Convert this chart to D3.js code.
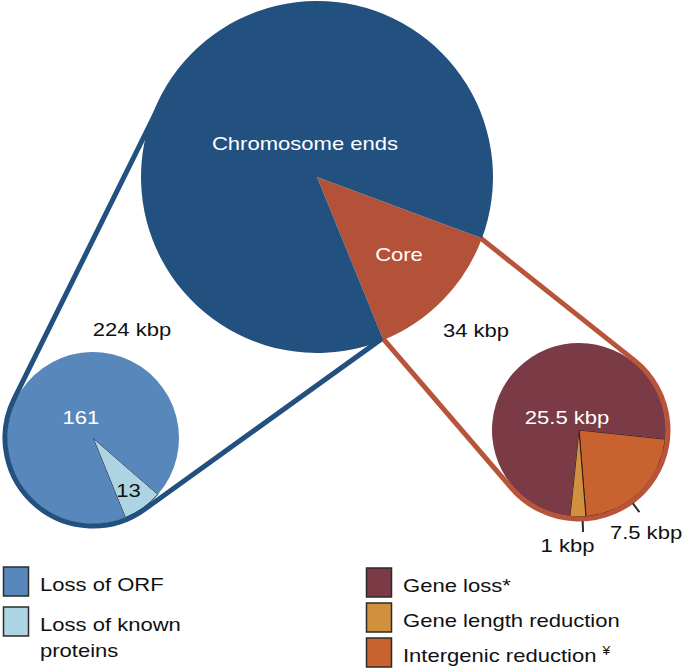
<!DOCTYPE html>
<html><head><meta charset="utf-8">
<script src="https://cdn.jsdelivr.net/npm/d3@7"></script>
<style>
body{margin:0;background:#fff}
text{font-family:"Liberation Sans",Arial,Helvetica,sans-serif}
</style>
</head><body>
<svg id="c" width="685" height="668"></svg>
<script>
// ---- data ----
const overviewCategories = ["Chromosome ends", "Core"];
const overviewValues = [224, 34];
const overviewLabels = ["224 kbp", "34 kbp"];
const endsCategories = ["Loss of ORF", "Loss of known proteins"];
const endsValues = [161, 13];
const coreCategories = ["Gene loss*", "Gene length reduction", "Intergenic reduction \u00A5"];
const coreValues = [25.5, 1, 7.5];
const coreLabels = ["25.5 kbp", "1 kbp", "7.5 kbp"];

// ---- styles ----
const overviewColors = ["#22507f", "#b35238"];
const endsColors = ["#5888bb", "#acd4e3"];
const coreColors = ["#7a3b46", "#d2913e", "#c8622f"];
const SX = 1.16;           // horizontal glyph stretch seen in reference
const FS = 19;
const deg = Math.PI / 180;

const svg = d3.select("#c");
const overviewColor = d3.scaleOrdinal(overviewCategories, overviewColors);
const endsColor = d3.scaleOrdinal(endsCategories, endsColors);
const coreColor = d3.scaleOrdinal(coreCategories, coreColors);

// geometry
const big = {cx: 317, cy: 177, r: 176};
const left = {cx: 93, cy: 438, r: 86, ro: 88};
const right = {cx: 579, cy: 430, r: 87, ro: 89};

function mk(cats, vals) { return cats.map((c, i) => ({name: c, value: vals[i]})); }

// pies
const bigData = mk(overviewCategories, overviewValues);
const bigOrder = [bigData[1], bigData[0]];
const bigStart = 110.4 * deg;
const bigArcs = d3.pie().sort(null).value(d => d.value)
  .startAngle(bigStart).endAngle(bigStart + 2 * Math.PI)(bigOrder);

const leftData = mk(endsCategories, endsValues);
const leftOrder = [leftData[1], leftData[0]];
const leftStart = 131 * deg;
const leftArcs = d3.pie().sort(null).value(d => d.value)
  .startAngle(leftStart).endAngle(leftStart + 2 * Math.PI)(leftOrder);

const rightData = mk(coreCategories, coreValues);
const rightOrder = [rightData[2], rightData[1], rightData[0]];
const rightStart = 96 * deg;
const rightArcs = d3.pie().sort(null).value(d => d.value)
  .startAngle(rightStart).endAngle(rightStart + 2 * Math.PI)(rightOrder);

// helpers
function pt(c, r, a) { return [c.cx + r * Math.sin(a), c.cy - r * Math.cos(a)]; }
function tangentFrom(P, c, R, sign) {
  const dx = P[0] - c.cx, dy = P[1] - c.cy, d = Math.hypot(dx, dy);
  const a = Math.atan2(dy, dx) + sign * Math.acos(R / d);
  return [c.cx + R * Math.cos(a), c.cy + R * Math.sin(a)];
}
function label(x, y, txt, fill, anchor) {
  return svg.append("text")
    .attr("transform", `translate(${x},${y}) scale(${SX},1)`)
    .attr("text-anchor", anchor || "middle")
    .attr("font-size", FS)
    .attr("fill", fill)
    .text(txt);
}

// ---- small pies ----
const leftArcGen = d3.arc().innerRadius(0).outerRadius(left.r);
svg.append("g").attr("transform", `translate(${left.cx},${left.cy})`)
  .selectAll("path").data(leftArcs).join("path")
  .attr("d", leftArcGen)
  .attr("fill", d => endsColor(d.data.name))
  .attr("stroke", d => d.data.name === endsCategories[1] ? "#1b1b1b" : "none")
  .attr("stroke-width", 1)
  .attr("stroke-linejoin", "round");

const rightArcGen = d3.arc().innerRadius(0).outerRadius(right.r);
svg.append("g").attr("transform", `translate(${right.cx},${right.cy})`)
  .selectAll("path").data(rightArcs).join("path")
  .attr("d", rightArcGen)
  .attr("fill", d => coreColor(d.data.name))
  .attr("stroke", d => d.data.name === coreCategories[0] ? "none" : "#2a1a14")
  .attr("stroke-width", 1)
  .attr("stroke-linejoin", "round");

// ---- callout outlines ----
const coreArc = bigArcs[0];
const coreP1 = pt(big, big.r - 2, coreArc.startAngle);
const coreP2 = pt(big, big.r - 2, coreArc.endAngle);

// left: outer common tangent between big circle and left pie, then wrap, then to core end
{
  const R1 = big.r - 3;
  const dx = left.cx - big.cx, dy = left.cy - big.cy, d = Math.hypot(dx, dy);
  const na = Math.atan2(dy, dx) + Math.acos((R1 - left.ro) / d);
  const T1 = [big.cx + R1 * Math.cos(na), big.cy + R1 * Math.sin(na)];
  const T2 = [left.cx + left.ro * Math.cos(na), left.cy + left.ro * Math.sin(na)];
  const Tb = tangentFrom(coreP2, left, left.ro, +1);
  const p = `M${T1}L${T2}A${left.ro},${left.ro} 0 0 0 ${Tb}L${coreP2}`;
  svg.append("path").attr("d", p).attr("fill", "none")
    .attr("stroke", "#22507f").attr("stroke-width", 5).attr("stroke-linejoin", "round");
}
// right: from core start tangent to right pie, wrap around right/bottom, back to core end
{
  const Ta = tangentFrom(coreP1, right, right.ro, +1);
  const Tb = tangentFrom(coreP2, right, right.ro, -1);
  const p = `M${coreP1}L${Ta}A${right.ro},${right.ro} 0 1 1 ${Tb}L${coreP2}`;
  svg.append("path").attr("d", p).attr("fill", "none")
    .attr("stroke", "#b8543a").attr("stroke-width", 5).attr("stroke-linejoin", "round");
}

// ---- big pie ----
const bigArcGen = d3.arc().innerRadius(0).outerRadius(big.r);
svg.append("g").attr("transform", `translate(${big.cx},${big.cy})`)
  .selectAll("path").data(bigArcs).join("path")
  .attr("d", bigArcGen)
  .attr("fill", d => overviewColor(d.data.name));

// ---- ticks for small slices ----
const tickOffset = {"Gene length reduction": -3 * deg, "Intergenic reduction \u00A5": 8 * deg};
rightArcs.filter(d => d.data.name !== coreCategories[0]).forEach(d => {
  const a = (d.startAngle + d.endAngle) / 2 + (tickOffset[d.data.name] || 0);
  const p0 = pt(right, right.ro + 2, a), p1 = pt(right, right.ro + 13, a);
  svg.append("line").attr("x1", p0[0]).attr("y1", p0[1]).attr("x2", p1[0]).attr("y2", p1[1])
    .attr("stroke", "#2b2b2b").attr("stroke-width", 2);
});

// ---- labels ----
label(305, 150, overviewCategories[0], "#fff");
label(399, 261, overviewCategories[1], "#fff");
label(132, 336, overviewLabels[0], "#111");
label(476, 337, overviewLabels[1], "#111");
label(81, 424, String(endsValues[0]), "#fff");
label(128.5, 497, String(endsValues[1]), "#111");
label(567, 424, coreLabels[0], "#fff");
label(567.5, 552, coreLabels[1], "#111");
label(646, 539, coreLabels[2], "#111");

// ---- legends ----
const legL = [
  {name: endsCategories[0], y: 567, lines: ["Loss of ORF"]},
  {name: endsCategories[1], y: 607, lines: ["Loss of known", "proteins"]}
];
legL.forEach(d => {
  svg.append("rect").attr("x", 3.5).attr("y", d.y).attr("width", 25).attr("height", 29)
    .attr("fill", endsColor(d.name)).attr("stroke", "#2b2b2b").attr("stroke-width", 1.5);
  d.lines.forEach((t, i) => label(40, d.y + 24 + i * 26, t, "#111", "start"));
});
coreCategories.forEach((c, i) => {
  const y = 568 + i * 35;
  svg.append("rect").attr("x", 366.5).attr("y", y).attr("width", 25).attr("height", 29)
    .attr("fill", coreColor(c)).attr("stroke", "#2b2b2b").attr("stroke-width", 1.5);
});
label(403, 592, "Gene loss*", "#111", "start");
label(403, 627, "Gene length reduction", "#111", "start");
const lastLeg = label(403, 662, "Intergenic reduction ", "#111", "start");
lastLeg.append("tspan").attr("font-size", 12).attr("dy", -7).text("\u00A5");
</script>
</body></html>
